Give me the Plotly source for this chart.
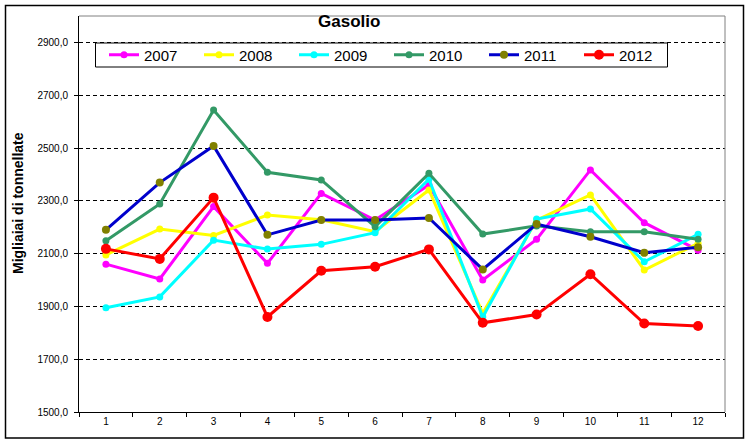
import plotly.graph_objects as go

months = ["1", "2", "3", "4", "5", "6", "7", "8", "9", "10", "11", "12"]
y2007 = [2060, 2004, 2278, 2063, 2328, 2227, 2360, 2000, 2154, 2417, 2217, 2113]
y2008 = [2095, 2193, 2169, 2246, 2228, 2183, 2341, 1874, 2227, 2322, 2038, 2139]
y2009 = [1895, 1936, 2151, 2117, 2135, 2179, 2382, 1860, 2231, 2269, 2069, 2173]
y2010 = [2149, 2288, 2644, 2408, 2379, 2202, 2404, 2174, 2205, 2183, 2183, 2154]
y2011 = [2190, 2369, 2508, 2171, 2227, 2227, 2235, 2040, 2212, 2164, 2103, 2124]
y2012 = [2118, 2080, 2312, 1860, 2035, 2050, 2116, 1838, 1869, 2022, 1835, 1826]

yticks = [1500, 1700, 1900, 2100, 2300, 2500, 2700, 2900]
yticklabels = ["1500,0", "1700,0", "1900,0", "2100,0", "2300,0", "2500,0", "2700,0", "2900,0"]

series = [
    ("2007", y2007, "#FF00FF", "#FF00FF", 7),
    ("2008", y2008, "#FFFF00", "#FFFF00", 7),
    ("2009", y2009, "#00FFFF", "#00FFFF", 7),
    ("2010", y2010, "#339966", "#339966", 7),
    ("2011", y2011, "#0000CC", "#808000", 8),
    ("2012", y2012, "#FF0000", "#FF0000", 10),
]

fig = go.Figure()
for name, vals, lc, mc, ms in series:
    fig.add_trace(go.Scatter(
        x=months, y=vals, name=name, mode="lines+markers",
        line=dict(color=lc, width=3),
        marker=dict(color=mc, size=ms, symbol="circle"),
    ))

FONT = "Liberation Sans, Arial, sans-serif"
L, R, T, B = 79, 26, 16, 33
W, H = 751, 445
pw = W - L - R
ph = H - T - B

def px(x):
    return (x - L) / pw

def py(y):
    return (H - B - y) / ph

fig.update_layout(
    width=W, height=H,
    margin=dict(l=L, r=R, t=T, b=B),
    paper_bgcolor="white", plot_bgcolor="white",
    font=dict(family=FONT, color="black", size=10),
    showlegend=True,
    legend=dict(
        orientation="h", x=px(104), y=py(55), xanchor="left", yanchor="middle",
        bgcolor="rgba(0,0,0,0)", borderwidth=0,
        font=dict(size=15, family=FONT), entrywidth=50, entrywidthmode="pixels",
        itemwidth=30, tracegroupgap=0,
    ),
    xaxis=dict(
        type="category", range=[-0.5, 11.5], showgrid=False,
        showline=True, linecolor="black", linewidth=1,
        ticks="outside", ticklen=4, tickcolor="black", tickson="boundaries",
        tickfont=dict(size=10), zeroline=False,
    ),
    yaxis=dict(
        range=[1500, 3000], tickvals=yticks, ticktext=yticklabels,
        showgrid=True, gridcolor="black", gridwidth=1, griddash="4px,3px",
        showline=True, linecolor="black", linewidth=1,
        ticks="outside", ticklen=4, tickcolor="black",
        tickfont=dict(size=10), zeroline=False, ticklabelstandoff=4,
    ),
    shapes=[
        dict(type="line", xref="paper", yref="paper", x0=0, x1=1, y0=1, y1=1,
             line=dict(color="#808080", width=1)),
        dict(type="line", xref="paper", yref="paper", x0=1, x1=1, y0=0, y1=1,
             line=dict(color="#808080", width=1)),
        dict(type="rect", xref="paper", yref="paper",
             x0=px(5.5), x1=px(743.5), y0=py(438), y1=py(5.5),
             line=dict(color="black", width=1.5)),
        dict(type="rect", xref="paper", yref="paper", layer="above",
             x0=px(95.5), x1=px(667.5), y0=py(67), y1=py(43),
             fillcolor="white", line=dict(color="black", width=1)),
    ],
    annotations=[
        dict(text="<b>Gasolio</b>", xref="paper", yref="paper", x=px(349), y=py(22),
             xanchor="center", yanchor="middle", showarrow=False,
             font=dict(size=17, family=FONT)),
        dict(text="<b>Migliaiai di tonnellate</b>", xref="paper", yref="paper",
             x=px(18), y=py(203), xanchor="center", yanchor="middle", textangle=-90,
             showarrow=False, font=dict(size=14, family=FONT)),
    ],
)

fig.write_html("out.html", config={"displayModeBar": False},
               post_script="document.body.style.margin='0';document.body.style.padding='0';")
